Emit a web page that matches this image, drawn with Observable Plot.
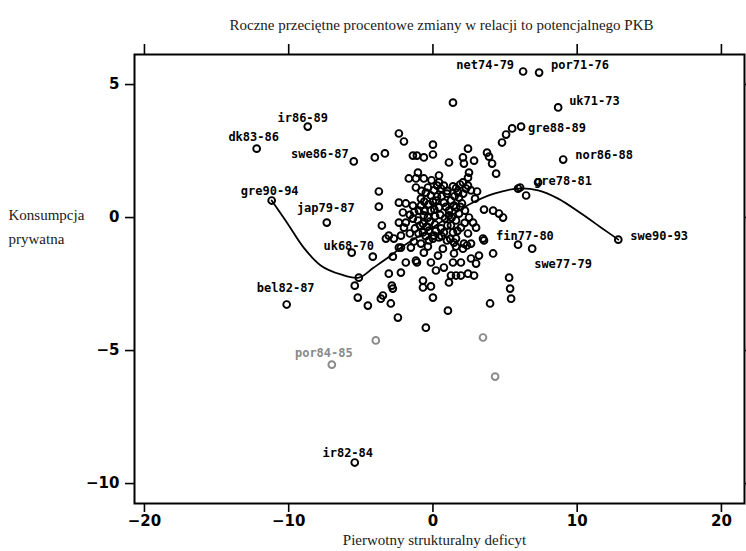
<!DOCTYPE html>
<html>
<head>
<meta charset="utf-8">
<script src="https://cdn.jsdelivr.net/npm/d3@7"></script>
<script src="https://cdn.jsdelivr.net/npm/@observablehq/plot@0.6"></script>
<style>
  html, body { margin: 0; padding: 0; background: #fff; }
  #chart { width: 746px; height: 551px; }
</style>
</head>
<body>
<div id="chart"></div>
<script>
// ---- DATA ----
const titleText = "Roczne przeciętne procentowe zmiany w relacji to potencjalnego PKB";
const yLabelText = "Konsumpcja\nprywatna";
const xLabelText = "Pierwotny strukturalny deficyt";

const xTicks = [-20, -10, 0, 10, 20];
const yTicks = [-10, -5, 0, 5];

// labelled country-period observations
const labeledPoints = [
  {label: "net74-79", x: 6.25, y: 5.49},
  {label: "por71-76", x: 7.36, y: 5.45},
  {label: "uk71-73", x: 8.68, y: 4.14},
  {label: "gre88-89", x: 6.11, y: 3.42},
  {label: "nor86-88", x: 9.03, y: 2.18},
  {label: "gre78-81", x: 7.29, y: 1.32},
  {label: "swe90-93", x: 12.85, y: -0.83},
  {label: "fin77-80", x: 5.90, y: -1.02},
  {label: "swe77-79", x: 6.88, y: -1.17},
  {label: "ir86-89", x: -8.68, y: 3.42},
  {label: "dk83-86", x: -12.22, y: 2.59},
  {label: "swe86-87", x: -5.49, y: 2.11},
  {label: "gre90-94", x: -11.18, y: 0.64},
  {label: "jap79-87", x: -7.36, y: -0.19},
  {label: "uk68-70", x: -5.63, y: -1.32},
  {label: "bel82-87", x: -10.14, y: -3.27},
  {label: "ir82-84", x: -5.42, y: -9.21}
];

// faint (grey in the scan) observations
const faintPoints = [
  {label: "por84-85", x: -7.01, y: -5.53},
  {label: "", x: -3.96, y: -4.62},
  {label: "", x: 3.47, y: -4.51},
  {label: "", x: 4.31, y: -5.98}
];

// unlabelled observations
const points = [
  [1.39,4.32],[-2.36,3.16],[-2.01,2.86],[-4.03,2.26],[-3.33,2.41],[-1.39,2.33],[-1.11,2.33],[-0.63,2.26],
  [0,2.74],[0,2.37],[1.11,2.07],[2.43,2.59],[2.08,2.26],[2.15,2.03],[2.85,2.14],[3.75,2.44],[3.89,2.29],
  [4.10,2.03],[4.38,1.65],[4.79,2.82],[5.07,3.12],[5.49,3.35],[5.90,1.09],[6.04,1.13],[6.46,0.83],
  [-1.04,1.69],[-1.18,1.47],[-0.63,1.47],[-1.67,1.47],[0.42,1.58],[0.42,1.32],[0.56,1.09],[-0.35,1.13],
  [-1.18,1.13],[2.50,1.69],[2.43,1.50],[2.08,1.32],[2.43,1.20],[2.29,1.09],[2.64,1.02],[3.06,0.98],[2.92,0.71],
  [-3.75,0.98],[-3.75,0.41],[-3.54,-0.30],[-2.36,0.56],[-1.88,0.53],[-1.39,0.45],[-2.08,0.19],[-2.36,-0.19],
  [-0.83,0.71],[-0.14,0.83],[0.21,0.64],[0.76,0.56],[1.25,0.64],[1.74,0.94],[1.81,0.75],[1.46,0.45],[1.11,0.26],
  [-0.35,0.0],[-0.69,-0.23],[-0.28,-0.49],[0.07,-0.68],[0.76,-0.56],[1.25,-0.30],[1.60,-0.11],[1.81,0.15],
  [1.11,0.08],[-0.14,0.26],[-0.97,0.26],[-0.63,0.08],[2.50,0.0],[2.78,-0.19],[3.54,0.30],[4.17,0.26],
  [4.58,0.15],[4.86,0.0],[2.43,-0.60],[2.99,-0.38],[3.47,-0.79],[4.17,-1.35],
  [-3.06,-0.68],[-3.26,-0.79],[-2.71,-0.79],[-2.22,-0.68],[-2.01,-0.38],[-2.36,-1.13],[-2.22,-1.13],
  [-2.78,-1.47],[-4.17,-1.47],[-3.06,-2.11],[-2.22,-2.07],[-1.32,-0.90],[-0.83,-0.98],[-0.35,-1.09],
  [-0.63,-1.32],[-1.18,-1.62],[-1.11,-1.69],[0,-0.79],[0.42,-0.75],[0.35,-1.43],[0.69,-1.17],[0.76,-1.88],
  [1.39,-1.69],[1.46,-1.35],[1.60,-1.09],[1.60,-0.79],[1.46,-0.94],[2.08,-1.17],[2.15,-0.98],[2.36,-1.05],
  [1.25,-2.18],[1.60,-2.18],[1.94,-2.18],[1.11,-2.44],[2.43,-2.11],[2.85,-2.18],[2.99,-1.73],[3.19,-1.43],
  [3.54,-0.86],[-0.69,-2.37],[-0.69,-2.63],[-0.14,-2.59],[0,-3.01],[-2.78,-2.67],[-2.85,-2.56],
  [-3.47,-2.93],[-3.61,-3.05],[-2.92,-3.23],[-4.51,-3.31],[-2.43,-3.76],[1.04,-3.50],[3.96,-3.23],
  [5.28,-2.26],[5.35,-2.67],[5.42,-3.05],[-0.49,-4.14],[-5.14,-2.26],[-5.42,-2.56],[-5.21,-3.01],
  [-0.49,0.94],[0.07,1.02],[0.97,0.90],[1.39,1.17],[2.01,0.53],[0.42,0.38],[0.83,-0.04],[0.14,-0.26],
  [-0.42,-0.34],[-1.04,-0.11],[-1.25,-0.41],[-1.60,-0.60],[1.39,-0.56],[1.94,-0.38],[0.56,-0.41],
  [2.22,0.26],[-0.83,0.45],[-1.39,-0.04],[0.97,-0.86],[-0.28,-0.86],[0.28,0.79],[1.60,0.38],[-0.69,-0.56],
  [0.76,1.20],[1.88,1.24],[-1.88,-0.19],[-1.53,-1.13],[-1.88,-1.69],[2.64,-0.98],[2.64,-1.54],[1.94,-1.69],
  [-0.14,-1.69],[0.21,-1.99],
  [-0.30,0.50],[0.10,0.30],[0.50,0.10],[0.90,0.40],[1.30,0.00],[0.15,0.05],[-0.20,-0.15],[-0.60,0.25],
  [-0.90,-0.30],[0.60,0.80],[1.00,1.00],[1.50,0.80],[1.90,0.40],[2.20,-0.20],[1.70,-0.50],[1.00,-0.30],
  [0.20,-0.50],[-0.50,-0.70],[-1.00,-0.60],[0.60,-0.70],[1.20,-0.80],[-1.30,0.20],[-1.60,0.10],[0.00,0.60],
  [-0.60,0.60],[1.60,1.10],[2.10,0.90],[0.30,1.20],[-0.10,1.40],[-0.80,1.00]
].map(([x, y]) => ({x, y}));

// smoothed (lowess) fit
const lowessCurve = [
  {x: -11.18, y: 0.64}, {x: -10.07, y: -0.23}, {x: -8.96, y: -1.13}, {x: -7.78, y: -1.80},
  {x: -6.39, y: -2.14}, {x: -5.14, y: -2.26}, {x: -4.10, y: -1.88}, {x: -2.92, y: -1.43},
  {x: -2.22, y: -1.13}, {x: -0.35, y: -0.49}, {x: 1.04, y: 0.0}, {x: 2.64, y: 0.53},
  {x: 4.24, y: 0.90}, {x: 5.90, y: 1.09}, {x: 7.29, y: 1.02}, {x: 8.68, y: 0.71},
  {x: 10.28, y: 0.15}, {x: 11.67, y: -0.38}, {x: 12.85, y: -0.83}
];

// ---- STYLE (label placement relative to its point) ----
const labelPlacement = {
  "net74-79": {anchor: "end", dx: -9, dy: -6},
  "por71-76": {anchor: "start", dx: 12, dy: -7},
  "uk71-73": {anchor: "start", dx: 11, dy: -6},
  "gre88-89": {anchor: "start", dx: 7, dy: 2},
  "nor86-88": {anchor: "start", dx: 12, dy: -4},
  "gre78-81": {anchor: "start", dx: -4, dy: -1},
  "swe90-93": {anchor: "start", dx: 12, dy: -3},
  "fin77-80": {anchor: "start", dx: -22, dy: -9},
  "swe77-79": {anchor: "start", dx: 2, dy: 15},
  "ir86-89": {anchor: "middle", dx: -5, dy: -8},
  "dk83-86": {anchor: "middle", dx: -3, dy: -12},
  "swe86-87": {anchor: "end", dx: -5, dy: -7},
  "gre90-94": {anchor: "middle", dx: -2, dy: -9},
  "jap79-87": {anchor: "middle", dx: -1, dy: -14},
  "uk68-70": {anchor: "middle", dx: -3, dy: -7},
  "bel82-87": {anchor: "middle", dx: -1, dy: -16},
  "ir82-84": {anchor: "middle", dx: -7, dy: -9},
  "por84-85": {anchor: "middle", dx: -8, dy: -11}
};

const labelFont = {fontFamily: "DejaVu Sans Mono", fontWeight: "bold", fontSize: 12};
const tickFont = {fontFamily: "DejaVu Sans", fontWeight: "bold", fontSize: 15};
const serif = "Liberation Serif";
const dotStyle = {r: 3.4, strokeWidth: 1.9, fill: "none"};

const labelMarks = [...labeledPoints, ...faintPoints.filter(d => d.label)].map(d => {
  const p = labelPlacement[d.label];
  const faint = faintPoints.includes(d);
  return Plot.text([d], {
    x: "x", y: "y", text: "label",
    textAnchor: p.anchor, dx: p.dx, dy: p.dy,
    fill: faint ? "#8a8a8a" : "black",
    ...labelFont
  });
});

const chart = Plot.plot({
  width: 746,
  height: 551,
  marginLeft: 134,
  marginRight: 2,
  marginTop: 54,
  marginBottom: 48,
  style: {background: "white", color: "black", overflow: "visible"},
  x: {domain: [-20.69, 21.6], ticks: xTicks, axis: null},
  y: {domain: [-10.75, 6.13], ticks: yTicks, axis: null},
  marks: [
    Plot.axisX(xTicks, {anchor: "bottom", tickSize: 9, tickPadding: 3, strokeWidth: 1.6, label: null, ...tickFont}),
    Plot.axisX(xTicks, {anchor: "top", tickSize: 11, tickFormat: () => "", strokeWidth: 1.6, label: null}),
    Plot.axisY(yTicks, {anchor: "left", tickSize: 9, tickPadding: 6, strokeWidth: 1.6, label: null, ...tickFont}),
    Plot.axisY(yTicks, {anchor: "right", tickSize: 9, tickFormat: () => "", strokeWidth: 1.6, label: null}),
    Plot.frame({stroke: "black", strokeWidth: 2}),
    Plot.line(lowessCurve, {x: "x", y: "y", curve: "catmull-rom", stroke: "black", strokeWidth: 1.8}),
    Plot.dot(points, {x: "x", y: "y", stroke: "black", ...dotStyle}),
    Plot.dot(labeledPoints, {x: "x", y: "y", stroke: "black", ...dotStyle}),
    Plot.dot(faintPoints, {x: "x", y: "y", stroke: "#8a8a8a", ...dotStyle}),
    ...labelMarks,
    Plot.text([titleText], {frameAnchor: "top", dx: 2, dy: -35, fontFamily: serif, fontSize: 15, fill: "#1a1a1a"}),
    Plot.text([yLabelText], {frameAnchor: "left", textAnchor: "start", dx: -126, dy: -55, lineHeight: 1.65, fontFamily: serif, fontSize: 15, fill: "#1a1a1a"}),
    Plot.text([xLabelText], {frameAnchor: "bottom", dx: -5, dy: 41, fontFamily: serif, fontSize: 15, fill: "#1a1a1a"})
  ]
});
document.getElementById("chart").appendChild(chart);
</script>
</body>
</html>
